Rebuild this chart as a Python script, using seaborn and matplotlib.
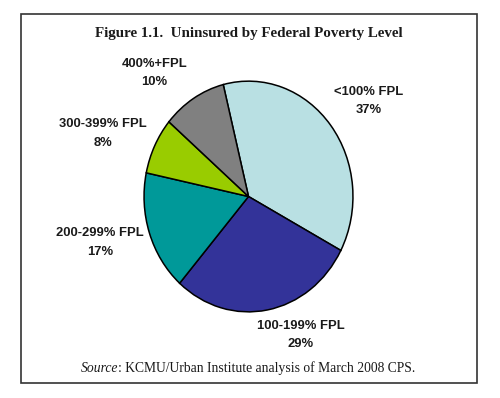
import matplotlib
matplotlib.use("Agg")
import matplotlib.pyplot as plt
from matplotlib.patches import Rectangle
import seaborn as sns

# ── data ──────────────────────────────────────────────
categories = ["<100% FPL", "100-199% FPL", "200-299% FPL", "300-399% FPL", "400%+FPL"]
shares = [37, 29, 17, 8, 10]
slice_colors = ["#b9e0e3", "#333399", "#009999", "#99cc00", "#808080"]

# label anchor positions (pie data coords, radius = 1)
label_pos = [(1.15, 0.83), (0.50, -1.20), (-1.42, -0.40), (-1.39, 0.545), (-0.90, 1.07)]

sns.set_theme(style="white")
plt.rcParams["font.family"] = ["Liberation Sans", "DejaVu Sans"]

W, H = 500, 398
fig = plt.figure(figsize=(W / 100, H / 100), dpi=100)
fig.patch.set_facecolor("white")

# pie is drawn slightly taller than wide, like the original
cx, cy, rx, ry = 248.5, 196.5, 105.5, 116.5
ax = fig.add_axes([(cx - rx) / W, 1 - (cy + ry) / H, 2 * rx / W, 2 * ry / H])

palette = sns.color_palette(slice_colors)
ax.pie(shares, colors=palette, startangle=104, counterclock=False,
       wedgeprops={"edgecolor": "black", "linewidth": 1.1})
ax.set_aspect("auto")
ax.set_xlim(-1.01, 1.01)
ax.set_ylim(-1.01, 1.01)
ax.axis("off")

for name, val, (lx, ly) in zip(categories, shares, label_pos):
    ax.text(lx, ly, f"{name}\n{val}%", ha="center", va="center",
            fontsize=9.4, fontweight="bold", color="#1a1a1a",
            linespacing=1.7, clip_on=False)

# title and source
fig.text(0.498, 1 - 33 / H, "Figure 1.1.  Uninsured by Federal Poverty Level",
         ha="center", va="center", fontsize=10.8, fontweight="bold",
         family="Liberation Serif", color="#1a1a1a")
fig.text(118 / W, 1 - 368 / H, "Source", ha="right", va="center",
         fontsize=9.8, style="italic", family="Liberation Serif", color="#1a1a1a")
fig.text(118 / W, 1 - 368 / H, ": KCMU/Urban Institute analysis of March 2008 CPS.",
         ha="left", va="center", fontsize=9.8, family="Liberation Serif", color="#1a1a1a")

# frame around the figure
fig.add_artist(Rectangle((21 / W, 1 - 383 / H), 456 / W, 369 / H,
                         transform=fig.transFigure, fill=False,
                         edgecolor="#333333", linewidth=1.2))

fig.savefig("out.png", dpi=100)
